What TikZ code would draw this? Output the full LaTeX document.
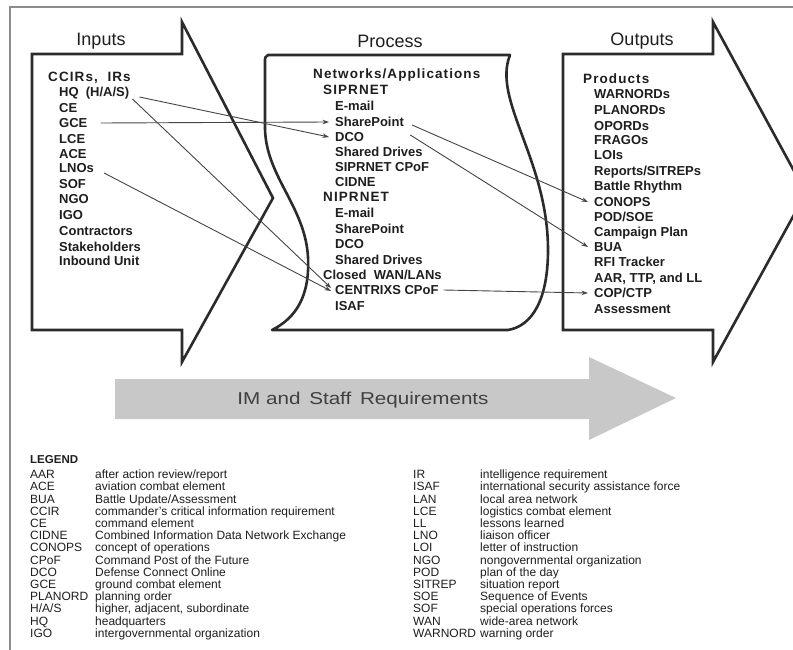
\documentclass[tikz,border=0pt]{standalone}
\usepackage{fontspec}
\setmainfont{Liberation Sans}
\usetikzlibrary{arrows.meta}
\definecolor{ink}{HTML}{1E1E1E}
\definecolor{edge}{HTML}{2B2B2B}
\definecolor{framegray}{HTML}{8C8C8C}
\definecolor{bandgray}{HTML}{C8C8C8}
\definecolor{wire}{HTML}{454545}
\begin{document}
\begin{tikzpicture}[x=1pt,y=-1pt,
  outline/.style={draw=edge, line width=2.6pt, line join=miter},
  heading/.style={font=\fontsize{18}{20}\selectfont, text=ink, inner sep=0},
  hdr/.style={font=\fontsize{13.5}{15}\selectfont\bfseries\addfontfeature{LetterSpace=8},
              text=ink, anchor=west, inner sep=0, text height=9.6pt, text depth=0pt},
  item/.style={font=\fontsize{13}{15}\selectfont\bfseries, text=ink, anchor=west,
              inner sep=0, text height=9.3pt, text depth=0pt},
  conn/.style={draw=wire, line width=0.9pt, -{Stealth[length=6.5pt,width=4.5pt]}},
  leg/.style={font=\fontsize{12}{13}\selectfont, text=ink, anchor=west, inner sep=0,
              text height=8.6pt, text depth=0pt},
  legtitle/.style={leg, font=\fontsize{11.5}{13}\selectfont\bfseries},
]
\clip (0,0) rectangle (793,650);
\fill[white] (0,0) rectangle (793,650);

% page frame
\draw[framegray, line width=1.4pt] (10,650) -- (10,7) -- (793,7);

% Inputs arrow
\draw[outline] (32,54) -- (182,54) -- (182,22) -- (273,198) -- (182,362)
  -- (182,330) -- (32,330) -- cycle;
% Process banner
\draw[outline, line join=round] (268,55) -- (510,55)
  .. controls (492,100) and (548,160) .. (548,250)
  .. controls (548,300) and (532,326) .. (508,330)
  -- (272,330)
  .. controls (296,318) and (310,296) .. (308,257)
  .. controls (305,205) and (264,175) .. (265,125)
  -- (265,62) .. controls (265,57) .. cycle;
% Outputs arrow
\draw[outline] (563,54) -- (713,54) -- (713,22) -- (806,193) -- (713,362)
  -- (713,330) -- (563,330) -- cycle;

% column headings
\node[heading] (hin) at (101,41) {Inputs};
\node[heading] (hpr) at (390,41) {Process};
\node[heading] (hout) at (642,41) {Outputs};

% inputs
\node[hdr]  (ccir)  at (48,77)  {CCIRs,\ \ IRs};
\node[item] (hq)    at (59,92)  {HQ\ \ (H/A/S)};
\node[item] (ce)    at (59,108) {CE};
\node[item] (gce)   at (59,123) {GCE};
\node[item] (lce)   at (59,139) {LCE};
\node[item] (ace)   at (59,154) {ACE};
\node[item] (lnos)  at (59,168) {LNOs};
\node[item] (sof)   at (59,184) {SOF};
\node[item] (ngo)   at (59,199) {NGO};
\node[item] (igo)   at (59,215) {IGO};
\node[item] (contr) at (59,231) {Contractors};
\node[item] (stake) at (59,247) {Stakeholders};
\node[item] (inb)   at (59,261) {Inbound Unit};

% process
\node[hdr]  (netapp)  at (313,74)  {Networks/Applications};
\node[hdr]  (sipr)    at (323,90)  {SIPRNET};
\node[item] (semail)  at (335,106) {E-mail};
\node[item] (spt)     at (335,122) {SharePoint};
\node[item] (dco)     at (335,137) {DCO};
\node[item] (sdrv)    at (335,152) {Shared Drives};
\node[item] (scpof)   at (335,167) {SIPRNET CPoF};
\node[item] (cidne)   at (335,182) {CIDNE};
\node[hdr]  (nipr)    at (323,197) {NIPRNET};
\node[item] (nemail)  at (335,213) {E-mail};
\node[item] (nspt)    at (335,229) {SharePoint};
\node[item] (ndco)    at (335,244) {DCO};
\node[item] (ndrv)    at (335,260) {Shared Drives};
\node[item] (closed)  at (323,275) {Closed\ \ WAN/LANs};
\node[item] (centrix) at (335,290) {CENTRIXS CPoF};
\node[item] (isaf)    at (335,306) {ISAF};

% outputs
\node[hdr]  (prod)   at (583,79)  {Products};
\node[item] (warn)   at (594,94)  {WARNORDs};
\node[item] (plan)   at (594,110) {PLANORDs};
\node[item] (opord)  at (594,126) {OPORDs};
\node[item] (frago)  at (594,140) {FRAGOs};
\node[item] (loi)    at (594,155) {LOIs};
\node[item] (rep)    at (594,171) {Reports/SITREPs};
\node[item] (rhythm) at (594,186) {Battle Rhythm};
\node[item] (conops) at (594,202) {CONOPS};
\node[item] (pod)    at (594,217) {POD/SOE};
\node[item] (camp)   at (594,232) {Campaign Plan};
\node[item] (bua)    at (594,247) {BUA};
\node[item] (rfi)    at (594,262) {RFI Tracker};
\node[item] (aar)    at (594,278) {AAR, TTP, and LL};
\node[item] (cop)    at (594,293) {COP/CTP};
\node[item] (assess) at (594,309) {Assessment};

% information flows
\draw[conn] ([xshift=10pt,yshift=-5pt]hq.east) -- ([xshift=-6pt]dco.west);
\draw[conn] ([xshift=13pt]gce.east) -- ([xshift=-6pt]spt.west);
\draw[conn] ([xshift=3pt,yshift=-7pt]hq.east) -- ([xshift=-4pt,yshift=2pt]centrix.west);
\draw[conn] ([xshift=10pt,yshift=-5pt]lnos.east) -- ([xshift=-4pt,yshift=-1pt]centrix.west);
\draw[conn] ([xshift=8pt,yshift=-3pt]spt.east) -- ([xshift=-6pt]conops.west);
\draw[conn] ([xshift=46pt,yshift=2pt]dco.east) -- ([xshift=-6pt]bua.west);
\draw[conn] ([xshift=5pt]centrix.east) -- ([xshift=-6pt]cop.west);

% IM and staff requirements band
\fill[bandgray] (115,379) -- (589,379) -- (589,357) -- (676,398) -- (589,440)
  -- (589,419) -- (115,419) -- cycle;
\node[font=\fontsize{17.2}{19}\selectfont\addfontfeature{FakeStretch=1.2}, text=ink!85, inner sep=0]
  (imstaff) at (363,400) {IM and\hspace{3pt} Staff\hspace{3pt} Requirements};

% legend
\node[legtitle] (legend) at (30,459) {LEGEND};
\foreach \ab/\de [count=\n from 0] in {
  AAR/{after action review/report},
  ACE/{aviation combat element},
  BUA/{Battle Update/Assessment},
  CCIR/{commander's critical information requirement},
  CE/{command element},
  CIDNE/{Combined Information Data Network Exchange},
  CONOPS/{concept of operations},
  CPoF/{Command Post of the Future},
  DCO/{Defense Connect Online},
  GCE/{ground combat element},
  PLANORD/{planning order},
  {H/A/S}/{higher, adjacent, subordinate},
  HQ/{headquarters},
  IGO/{intergovernmental organization}}{
  \node[leg] (la\n) at (30,474.3+12.2*\n) {\ab};
  \node[leg] (ld\n) at (95,474.3+12.2*\n) {\de};
}
\foreach \ab/\de [count=\n from 0] in {
  IR/{intelligence requirement},
  ISAF/{international security assistance force},
  LAN/{local area network},
  LCE/{logistics combat element},
  LL/{lessons learned},
  LNO/{liaison officer},
  LOI/{letter of instruction},
  NGO/{nongovernmental organization},
  POD/{plan of the day},
  SITREP/{situation report},
  SOE/{Sequence of Events},
  SOF/{special operations forces},
  WAN/{wide-area network},
  WARNORD/{warning order}}{
  \node[leg] (ra\n) at (413,474.3+12.2*\n) {\ab};
  \node[leg] (rd\n) at (480,474.3+12.2*\n) {\de};
}
\end{tikzpicture}
\end{document}
